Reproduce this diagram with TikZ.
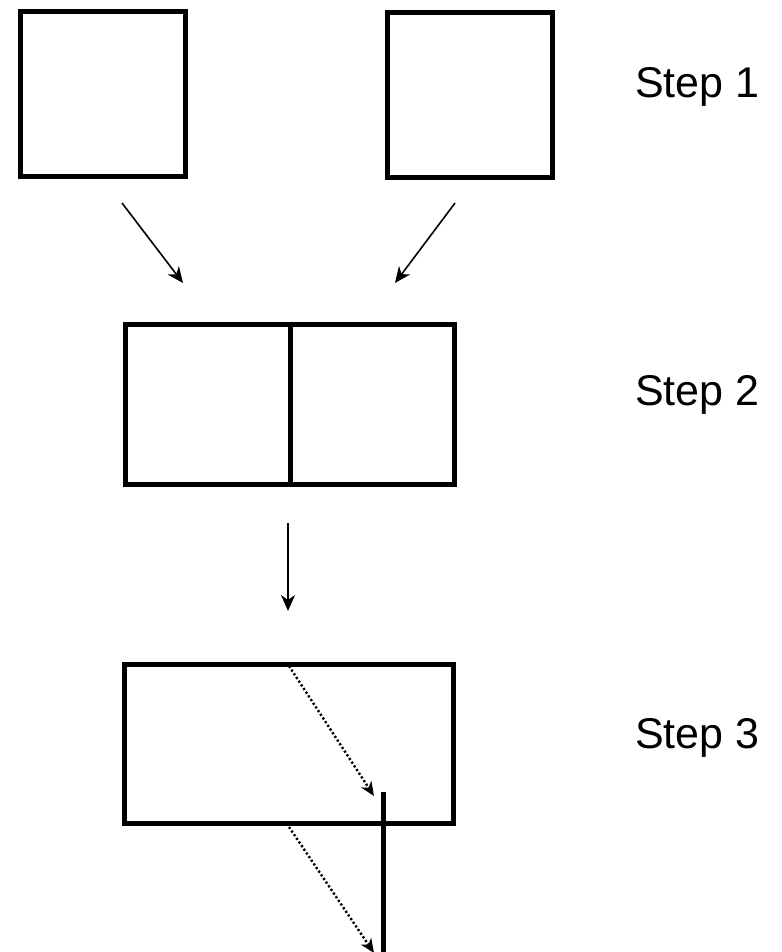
\documentclass[tikz,border=0pt]{standalone}
\usepackage{fontspec}
\setmainfont{Liberation Sans}
\usepackage{tikz}
\usetikzlibrary{positioning, arrows.meta}

\begin{document}
\begin{tikzpicture}[
    x=1pt, y=-1pt,
    >={Stealth[length=16pt, width=14pt, inset=5pt]},
    font=\fontsize{43}{50}\selectfont,
    blockbox/.style ={draw, line width=5pt, inner sep=0pt},
    sqbox/.style    ={blockbox, minimum width=165pt, minimum height=165pt},
    widebox/.style  ={blockbox, minimum width=329pt, minimum height=159pt},
    steplabel/.style={anchor=base west, inner sep=0pt},
    arr/.style      ={->, line width=1.6pt},
    dotarr/.style   ={-{Stealth[length=14pt, width=12pt, inset=4pt]}, line width=2.4pt, dash pattern=on 2.2pt off 2.2pt},
]
\useasboundingbox (0,0) rectangle (781,952);

% ---- Step 1: two separate squares ----
\node[sqbox] (left)  at (103,94) {};
\node[sqbox] (right) at (470,95) {};
\node[steplabel] (s1) at (635,98) {Step 1};

% ---- Step 2: joined rectangle ----
\node[widebox, minimum height=160pt] (joined) at (290,404.5) {};
\draw[line width=5pt] (joined.north) -- (joined.south);
\node[steplabel] (s2) at (635,405) {Step 2};

% ---- Step 3: rectangle with cut ----
\node[widebox] (cut) at (289,743.5) {};
\node[steplabel] (s3) at (635,748) {Step 3};

% ---- Arrows ----
\coordinate (a1s) at (122,203);
\coordinate (a1e) at (183,283);
\coordinate (a2s) at (455,203);
\coordinate (a2e) at (395,283);
\coordinate (a3s) at (288,523);
\coordinate (a3e) at (288,611);
\draw[arr] (a1s) -- (a1e);
\draw[arr] (a2s) -- (a2e);
\draw[arr] (a3s) -- (a3e);

% ---- Cut line and dotted moves ----
\coordinate (cuttop) at (383,792);
\coordinate (cutbot) at (383,952);
\coordinate (d1s) at (289,666);
\coordinate (d1e) at (374,796);
\coordinate (d2s) at (289,827);
\coordinate (d2e) at (374,953);
\draw[line width=5pt] (cuttop) -- (cutbot);
\draw[dotarr] (d1s) -- (d1e);
\draw[dotarr] (d2s) -- (d2e);

\end{tikzpicture}
\end{document}
